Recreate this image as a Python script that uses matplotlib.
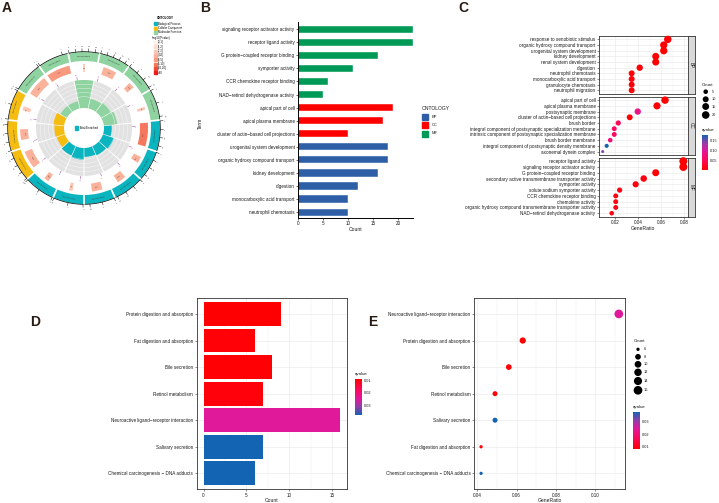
import numpy as np
import matplotlib
matplotlib.use("Agg")
import matplotlib.pyplot as plt
from matplotlib.patches import Wedge, Rectangle
from matplotlib.colors import LinearSegmentedColormap, Normalize

plt.rcParams['font.family'] = ['Liberation Sans', 'DejaVu Sans']

# ---------------- data ----------------
# A: GO circle (clockwise from top)
a_ids = ["GO:0048018", "GO:0030546", "GO:0001664", "GO:0015293",
         "GO:0001655", "GO:0015850", "GO:0001822", "GO:0007586", "GO:0015718", "GO:0030593",
         "GO:0045177", "GO:0016324", "GO:0098862",
         "GO:0004745", "GO:0048020"]
a_onto = ["MF", "MF", "MF", "MF", "BP", "BP", "BP", "BP", "BP", "BP", "CC", "CC", "CC", "MF", "MF"]
a_count = [23, 23, 16, 11, 18, 18, 16, 12, 10, 10, 19, 17, 10, 5, 6]
a_bg = [38, 283, 124, 60, 867, 135, 188, 226, 74, 108, 379, 226, 86, 436, 499]
a_logp = [2.5, 3.5, 3.2, 2.8, 7.5, 3.1, 3.3, 3.6, 2.2, 3.4, 3.9, 3.5, 3.0, 3.8, 4.2]
logp_bins = ["(0,1]", "(1,2]", "(2,3]", "(3,4]", "(4,5]", "(5,10]", "(10,20]", ">20"]
logp_edges = [0, 1, 2, 3, 4, 5, 10, 20]

# B: GO bar chart
b_terms = ["signaling receptor activator activity", "receptor ligand activity",
           "G protein\u2212coupled receptor binding", "symporter activity",
           "CCR chemokine receptor binding", "NAD\u2212retinol dehydrogenase activity",
           "apical part of cell", "apical plasma membrane",
           "cluster of actin\u2212based cell projections",
           "urogenital system development", "organic hydroxy compound transport",
           "kidney development", "digestion", "monocarboxylic acid transport",
           "neutrophil chemotaxis"]
b_counts = [23, 23, 16, 11, 6, 5, 19, 17, 10, 18, 18, 16, 12, 10, 10]
b_onto = ["MF"] * 6 + ["CC"] * 3 + ["BP"] * 6

# C: GO dot plot facets
c_bp_terms = ["response to xenobiotic stimulus", "organic hydroxy compound transport",
              "urogenital system development", "kidney development", "renal system development",
              "digestion", "neutrophil chemotaxis", "monocarboxylic acid transport",
              "granulocyte chemotaxis", "neutrophil migration"]
c_bp_ratio = [0.0658, 0.0623, 0.0623, 0.0553, 0.0553, 0.0413, 0.0343, 0.0343, 0.0343, 0.0343]
c_bp_count = [19, 18, 18, 16, 16, 12, 10, 10, 10, 10]
c_bp_q = [0.004, 0.004, 0.004, 0.005, 0.005, 0.006, 0.008, 0.009, 0.009, 0.01]

c_cc_terms = ["apical part of cell", "apical plasma membrane", "postsynaptic membrane",
              "cluster of actin\u2212based cell projections", "brush border",
              "integral component of postsynaptic specialization membrane",
              "intrinsic component of postsynaptic specialization membrane",
              "brush border membrane", "integral component of postsynaptic density membrane",
              "axonemal dynein complex"]
c_cc_ratio = [0.0634, 0.0564, 0.0396, 0.0326, 0.0226, 0.0191, 0.0191, 0.0156, 0.0125, 0.009]
c_cc_count = [19, 17, 12, 10, 7, 6, 6, 5, 4, 3]
c_cc_q = [0.005, 0.006, 0.085, 0.008, 0.052, 0.06, 0.06, 0.075, 0.178, 0.14]

c_mf_terms = ["receptor ligand activity", "signaling receptor activator activity",
              "G protein\u2212coupled receptor binding",
              "secondary active transmembrane transporter activity", "symporter activity",
              "solute:sodium symporter activity", "CCR chemokine receptor binding",
              "chemokine activity", "organic hydroxy compound transmembrane transporter activity",
              "NAD\u2212retinol dehydrogenase activity"]
c_mf_ratio = [0.0794, 0.0794, 0.0553, 0.0448, 0.0378, 0.0238, 0.0204, 0.0204, 0.0204, 0.0169]
c_mf_count = [23, 23, 16, 13, 11, 7, 6, 6, 6, 5]
c_mf_q = [0.004, 0.004, 0.005, 0.012, 0.01, 0.015, 0.012, 0.012, 0.016, 0.014]

# D / E: KEGG
d_terms = ["Protein digestion and absorption", "Fat digestion and absorption", "Bile secretion",
           "Retinol metabolism", "Neuroactive ligand\u2212receptor interaction",
           "Salivary secretion", "Chemical carcinogenesis \u2212 DNA adducts"]
d_counts = [9, 6, 8, 7, 16, 7, 6]
d_q = [0.0095, 0.0098, 0.0097, 0.0103, 0.025, 0.0376, 0.0376]

e_terms = ["Neuroactive ligand\u2212receptor interaction", "Protein digestion and absorption",
           "Bile secretion", "Retinol metabolism", "Salivary secretion",
           "Fat digestion and absorption", "Chemical carcinogenesis \u2212 DNA adducts"]
e_ratio = [0.112, 0.0631, 0.0560, 0.0490, 0.0490, 0.0419, 0.0419]
e_counts = [16, 9, 8, 7, 7, 6, 6]
e_q = [0.025, 0.0095, 0.0097, 0.0103, 0.0376, 0.0098, 0.0376]

# ---------------- style ----------------
W, H = 719, 503
fig = plt.figure(figsize=(W / 100, H / 100), dpi=100)

def rect(x0, y0, x1, y1):
    return [x0 / W, 1 - y1 / H, (x1 - x0) / W, (y1 - y0) / H]

onto_col = {"BP": "#2E5FA6", "CC": "#FF0000", "MF": "#009A56"}
circ_col = {"BP": "#0BB5BF", "CC": "#F5BD12", "MF": "#8FD3A0"}
logp_cols = ["#FEF0EA", "#FDDCCF", "#FCC7B4", "#FBB29B", "#F99A80", "#F5775D", "#F04A36", "#EB1C1C"]
qcmap = LinearSegmentedColormap.from_list(
    "q", [(0, "#FF0000"), (0.3, "#FA0A5E"), (0.55, "#E2189B"), (0.78, "#8F3FAA"), (1, "#1464B4")])
TXT = "#1a1a1a"
FS = 3.3
GRID = "#EBEBEB"

def size_of(c, cmin, cmax, dmin, dmax):
    d = dmin + (dmax - dmin) * np.sqrt((np.asarray(c, float) - cmin) / (cmax - cmin))
    return (d * 0.72) ** 2

def bw_axes(ax):
    for s in ax.spines.values():
        s.set_color("#333333")
        s.set_linewidth(0.6)
    ax.set_axisbelow(True)
    ax.grid(True, which='major', color=GRID, lw=0.5)
    ax.grid(True, which='minor', axis='x', color=GRID, lw=0.25)
    ax.tick_params(which='major', labelsize=FS, length=1.5, width=0.4, pad=1,
                   color="#333333", labelcolor=TXT)
    ax.tick_params(which='minor', length=0)

def qbar(x0, y0, x1, y1, vmin, vmax, ticks, red_top):
    ax = fig.add_axes(rect(x0, y0, x1, y1))
    grad = np.linspace(vmin, vmax, 256).reshape(-1, 1)
    ax.imshow(grad, aspect='auto', cmap=qcmap, origin='lower', extent=[0, 1, vmin, vmax])
    ax.set_ylim((vmax, vmin) if red_top else (vmin, vmax))
    ax.set_xticks([])
    ax.set_yticks(ticks)
    ax.set_yticklabels([f"{t:.2f}" for t in ticks])
    ax.yaxis.tick_right()
    ax.tick_params(length=0, labelsize=2.8, pad=1.5, labelcolor=TXT)
    for s in ax.spines.values():
        s.set_visible(False)

# ---------------- B ----------------
axb = fig.add_axes(rect(298, 22, 413.3, 218))
yb = np.arange(len(b_terms))
axb.barh(yb, b_counts, height=0.55, color=[onto_col[o] for o in b_onto],
         edgecolor="white", linewidth=0.3)
axb.set_ylim(14.45, -0.55)
axb.set_xlim(0, 23.05)
axb.set_yticks(yb)
axb.set_yticklabels(b_terms)
axb.set_xticks([0, 5, 10, 15, 20])
for s in ["top", "right"]:
    axb.spines[s].set_visible(False)
for s in ["left", "bottom"]:
    axb.spines[s].set_linewidth(0.7)
axb.tick_params(labelsize=FS, length=1.5, width=0.4, pad=1, labelcolor=TXT)

# ---------------- C ----------------
qn_c = Normalize(0.0035, 0.178)
facets = [("BP", c_bp_terms, c_bp_ratio, c_bp_count, c_bp_q, 36, 93.7),
          ("CC", c_cc_terms, c_cc_ratio, c_cc_count, c_cc_q, 96.7, 155),
          ("MF", c_mf_terms, c_mf_ratio, c_mf_count, c_mf_q, 157.7, 216.7)]
for name, terms, ratio, cnt, q, y0, y1 in facets:
    ax = fig.add_axes(rect(599, y0, 687.7, y1))
    yy = np.arange(len(terms))
    ax.scatter(ratio, yy, s=size_of(cnt, 3, 23, 3.0, 8.0), c=qcmap(qn_c(q)),
               edgecolors='none', zorder=3, clip_on=False)
    ax.set_xlim(0.0058, 0.0832)
    ax.set_ylim(9.6, -0.6)
    ax.set_yticks(yy)
    ax.set_yticklabels(terms)
    ax.set_xticks([0.02, 0.04, 0.06, 0.08])
    ax.set_xticks([0.01, 0.03, 0.05, 0.07], minor=True)
    bw_axes(ax)
    if name != "MF":
        ax.tick_params(axis='x', labelbottom=False, length=0)
    else:
        ax.set_xticklabels(["0.02", "0.04", "0.06", "0.08"])
    st = fig.add_axes(rect(687.7, y0, 694.5, y1))
    st.set_facecolor("#D9D9D9")
    st.set_xticks([])
    st.set_yticks([])
    for s in st.spines.values():
        s.set_color("#333333")
        s.set_linewidth(0.6)
    st.text(0.5, 0.5, name, rotation=-90, ha='center', va='center', fontsize=FS,
            color=TXT, transform=st.transAxes)

# ---------------- D ----------------
qn_k = Normalize(0.0092, 0.0376)
axd = fig.add_axes(rect(196.7, 298, 347.3, 489.3))
yd = np.arange(len(d_terms))
axd.barh(yd, d_counts, height=0.9, color=qcmap(qn_k(d_q)), zorder=3)
axd.set_xlim(-0.8, 16.8)
axd.set_ylim(6.6, -0.6)
axd.set_yticks(yd)
axd.set_yticklabels(d_terms)
axd.set_xticks([0, 5, 10, 15])
axd.set_xticks([2.5, 7.5, 12.5], minor=True)
bw_axes(axd)

# ---------------- E ----------------
axe = fig.add_axes(rect(474, 298, 625.3, 489.3))
ye = np.arange(len(e_terms))
axe.scatter(e_ratio, ye, s=size_of(e_counts, 6, 16, 3.3, 8.7), c=qcmap(qn_k(e_q)),
            edgecolors='none', zorder=3)
axe.set_xlim(0.0383, 0.1153)
axe.set_ylim(6.6, -0.6)
axe.set_yticks(ye)
axe.set_yticklabels(e_terms)
axe.set_xticks([0.04, 0.06, 0.08, 0.10])
axe.set_xticklabels(["0.04", "0.06", "0.08", "0.10"])
axe.set_xticks([0.05, 0.07, 0.09, 0.11], minor=True)
bw_axes(axe)

# colour bars
qbar(701.7, 135, 707.3, 170, 0.0035, 0.178, [0.05, 0.10, 0.15], False)
qbar(355, 379, 362, 415, 0.0092, 0.0376, [0.01, 0.02, 0.03], True)
qbar(633.3, 412, 640, 449, 0.0082, 0.038, [0.01, 0.02, 0.03], False)

# ---------------- overlay: A + legends + labels ----------------
ov = fig.add_axes([0, 0, 1, 1])
ov.set_xlim(0, W)
ov.set_ylim(H, 0)
ov.axis('off')

cx, cy = 84, 128

def pol(r, a):
    return cx + r * np.cos(np.radians(a)), cy - r * np.sin(np.radians(a))

def arc(r0, r1, a0, a1, **kw):
    ov.add_patch(Wedge((cx, cy), r1, -a1, -a0, width=r1 - r0, **kw))

def arcline(r, a0, a1, **kw):
    t = np.linspace(a0, a1, 30)
    x, y = pol(r, t)
    ov.plot(x, y, **kw)

n = len(a_ids)
step = 360 / n
rich = np.array(a_count) / np.array(a_bg)
for i in range(n):
    c = 90 - step * i
    a0, a1 = c - step / 2 + 0.7, c + step / 2 - 0.7
    col = circ_col[a_onto[i]]
    cn = (c + 180) % 360 - 180
    rot = cn - 90 if cn >= 0 else cn + 90
    # outer ring with id
    arc(67, 76, a0, a1, color=col, lw=0)
    x, y = pol(71.5, c)
    ov.text(x, y, a_ids[i], fontsize=1.7, rotation=rot, ha='center', va='center', color="#333333")
    # ticks
    arcline(76.3, a0, a1, color="black", lw=0.5)
    for v in range(0, a_count[i] + 1, 5):
        a = a1 - (a1 - a0) * v / a_count[i]
        x0, y0 = pol(76.3, a)
        x1, y1 = pol(79.3, a)
        ov.plot([x0, x1], [y0, y1], color="black", lw=0.35)
        x2, y2 = pol(81.8, a)
        ov.text(x2, y2, str(v), fontsize=1.2, rotation=rot, ha='center', va='center')
    # background-number ring
    k = np.searchsorted(logp_edges, a_logp[i]) - 1
    span = (a1 - a0 - 1) * min(a_bg[i], 500) / 500
    arc(56, 64, c - span / 2, c + span / 2, color=logp_cols[k], lw=0)
    x, y = pol(60, c)
    ov.text(x, y, str(a_bg[i]), fontsize=1.6, rotation=rot, ha='center', va='center', color="#333333")
    # enriched count label
    ap = c + step / 2 - 4
    x0, y0 = pol(48.5, ap)
    x1, y1 = pol(51, ap)
    ov.plot([x0, x1], [y0, y1], color="#A050B0", lw=0.4)
    x, y = pol(53, ap)
    ov.text(x, y, str(a_count[i]), fontsize=1.6, rotation=rot, ha='center', va='center', color="#A050B0")
    # inner track
    arc(27, 48, a0, a1, color="#E2E2E2", lw=0)
    for r in [31.2, 35.4, 39.6, 43.8]:
        arcline(r, a0, a1, color="white", lw=0.25)
    arc(20, 27 + 21 * rich[i] / rich.max(), a0, a1, color=col, lw=0)

ov.add_patch(Rectangle((75, 126.3), 3.4, 3.4, color=circ_col["BP"]))
ov.text(80, 128, "Total/Enriched", fontsize=2.1, va='center', ha='left')

# A legend
ov.text(165.7, 18.3, "ONTOLOGY", fontsize=2.2, ha='center', va='center', fontweight='bold')
for j, (o, lab) in enumerate([("BP", "Biological Process"), ("CC", "Cellular Component"),
                               ("MF", "Molecular Function")]):
    yy = 23.7 + 4.3 * j
    ov.add_patch(Rectangle((153.5, yy - 1.5), 3, 3, color=circ_col[o]))
    ov.text(158.3, yy, lab, fontsize=2, va='center', ha='left')
ov.text(161, 38.3, "\u2212log10(Pvalue)", fontsize=2, ha='center', va='center')
for j, lab in enumerate(logp_bins):
    yy = 42.3 + 4.35 * j
    ov.add_patch(Rectangle((153.5, yy - 1.5), 3, 3, color=logp_cols[j]))
    ov.text(158.3, yy, lab, fontsize=2, va='center', ha='left')

# B legend and labels
ov.text(421.7, 108, "ONTOLOGY", fontsize=3.6, va='center', ha='left', color=TXT)
for j, o in enumerate(["BP", "CC", "MF"]):
    yy = 116.7 + 8.4 * j
    ov.add_patch(Rectangle((422, yy - 3), 6, 6, color=onto_col[o]))
    ov.text(431.5, yy, o, fontsize=2.9, va='center', ha='left', color=TXT)
ov.text(200, 123, "Term", fontsize=3.6, rotation=90, ha='center', va='center', color=TXT)
ov.text(355.6, 229.5, "Count", fontsize=3.6, ha='center', va='center', color=TXT)

# C legend and labels
ov.text(643, 228, "GeneRatio", fontsize=3.6, ha='center', va='center', color=TXT)
ov.text(701.7, 85, "Count", fontsize=3.2, ha='left', va='center', color=TXT)
for v, yy in zip([5, 10, 15, 20], [91.7, 99.3, 106.5, 115]):
    ov.scatter([705.7], [yy], s=size_of(v, 3, 23, 3.0, 8.0), color="black", edgecolors='none')
    ov.text(711.5, yy, str(v), fontsize=2.8, va='center', ha='left', color=TXT)
ov.text(701.7, 130.5, "qvalue", fontsize=3.2, ha='left', va='center', color=TXT)

# D labels
ov.text(272, 500, "Count", fontsize=3.6, ha='center', va='center', color=TXT)
ov.text(355, 374.5, "qvalue", fontsize=3.2, ha='left', va='center', color=TXT)

# E legend and labels
ov.text(550, 500, "GeneRatio", fontsize=3.6, ha='center', va='center', color=TXT)
ov.text(633.3, 341, "Count", fontsize=3.2, ha='left', va='center', color=TXT)
for v, yy in zip([6, 8, 10, 12, 14, 16], [349.3, 356.8, 364.3, 372.3, 381, 390.3]):
    ov.scatter([638], [yy], s=size_of(v, 6, 16, 3.3, 8.7), color="black", edgecolors='none')
    ov.text(644, yy, str(v), fontsize=2.8, va='center', ha='left', color=TXT)
ov.text(633.3, 407, "qvalue", fontsize=3.2, ha='left', va='center', color=TXT)

# panel letters
for lab, x, y in [("A", 7, 8), ("B", 205, 8), ("C", 463, 8), ("D", 35, 322), ("E", 373, 322)]:
    ov.text(x, y, lab, fontsize=10, fontweight='bold', ha='center', va='center', color="#2a1a14")

fig.savefig("out.png", dpi=100)
